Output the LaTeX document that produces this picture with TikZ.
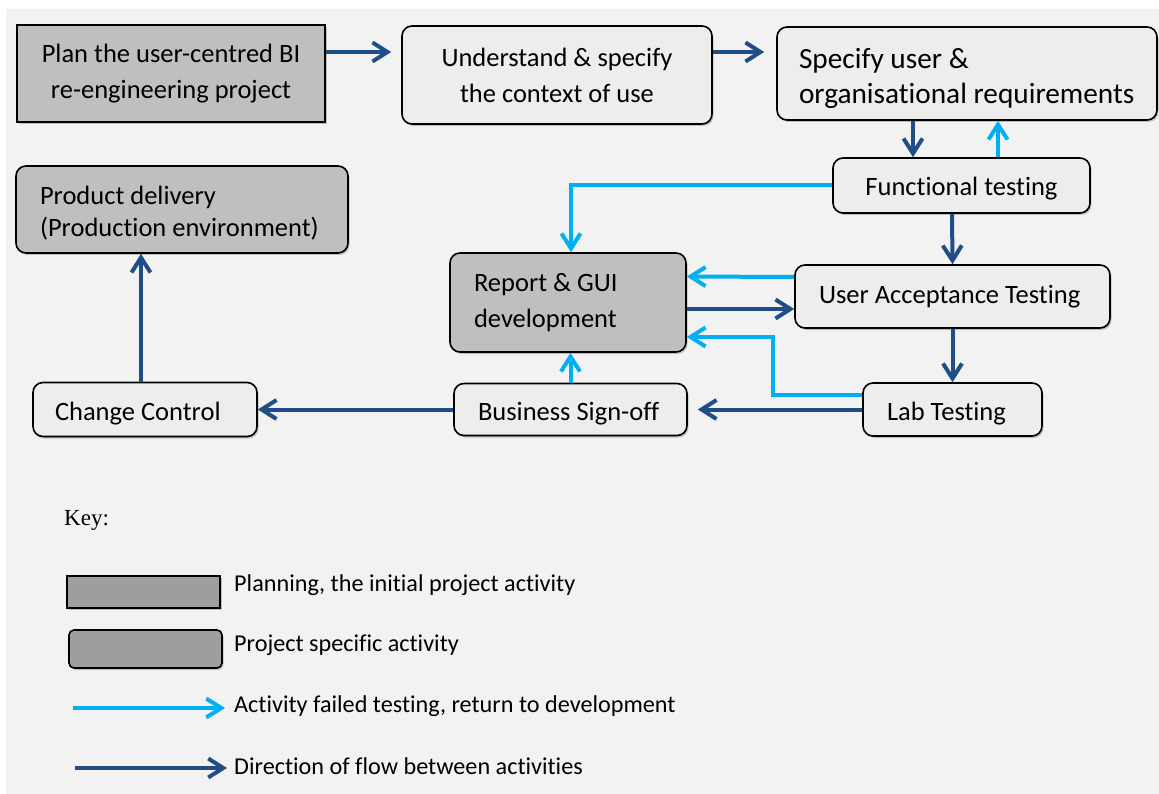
\documentclass[tikz,border=0pt]{standalone}
\usepackage{fontspec}
\setmainfont{Carlito}[Ligatures=NoCommon]
\newfontfamily\keyfont{Liberation Serif}
\usetikzlibrary{arrows.meta,shadows}

\definecolor{flowblue}{HTML}{1F4E86}
\definecolor{failblue}{HTML}{00B0F0}
\definecolor{bggrey}{HTML}{F2F2F2}
\definecolor{boxgrey}{HTML}{EDEDED}
\definecolor{devgrey}{HTML}{BFBFBF}
\definecolor{keygrey}{HTML}{9E9E9E}

\begin{document}
\begin{tikzpicture}[x=1pt,y=-1pt,
	box/.style={draw=black,line width=1.6pt,rounded corners=10pt,fill=boxgrey,
		inner sep=0pt,align=center,font=\fontsize{26.5}{36}\selectfont,
		drop shadow={shadow xshift=1.5pt,shadow yshift=-2pt,opacity=0.45}},
	devbox/.style={box,fill=devgrey},
	leftbox/.style={align=flush left,inner xsep=24pt},
	oneline/.style={text height=21pt,text depth=0pt},
	twolines/.style={text height=22pt,text depth=32pt},
	flow/.style={draw=flowblue,line width=4pt,-{Straight Barb[length=15pt,width=19pt]}},
	fail/.style={flow,draw=failblue},
	keytext/.style={anchor=west,inner sep=0pt,font=\fontsize{24.2}{29}\selectfont}]
	\useasboundingbox (0,0) rectangle (1159,794);
	\fill [bggrey] (6,9) rectangle (1159,794);
	% activities
	\node [box,sharp corners,fill=devgrey,minimum width=308pt,minimum height=97pt] (plan) at (171,73.5) {Plan the user-centred BI\\re-engineering project};
	\node [box,minimum width=310pt,minimum height=98pt] (context) at (557,75) {Understand \& specify\\the context of use};
	\node [box,leftbox,twolines,inner xsep=22pt,text width=336pt,minimum height=93pt,font=\fontsize{29.3}{35}\selectfont] (requirements) at (967,73.5) {Specify user \&\\organisational requirements};
	\node [box,oneline,minimum width=257pt,minimum height=55pt] (functional) at (961.5,185.5) {Functional testing};
	\node [box,leftbox,text width=267pt,minimum height=63pt] (uat) at (952.5,296.5) {User Acceptance Testing};
	\node [box,leftbox,oneline,text width=131pt,minimum height=53pt] (lab) at (952.5,409.5) {Lab Testing};
	\node [box,leftbox,oneline,text width=185pt,minimum height=52pt] (signoff) at (570.5,409.5) {Business Sign-off};
	\node [devbox,leftbox,text width=188pt,minimum height=99pt] (report) at (568,302.5) {Report \& GUI\\development};
	\node [box,leftbox,oneline,inner xsep=22pt,text width=180pt,minimum height=54pt] (change) at (145,409.5) {Change Control};
	\node [devbox,leftbox,twolines,text width=284pt,minimum height=87pt,font=\fontsize{26.5}{32}\selectfont] (delivery) at (182,209.5) {Product delivery\\(Production environment)};
	% flow between activities
	\draw [flow,shorten >=10pt] ([yshift=21.5pt]plan.east) -- ([yshift=23pt]context.west);
	\draw [flow,shorten >=12pt] ([yshift=23pt]context.east) -- ([yshift=21.5pt]requirements.west);
	\draw [flow] ([xshift=-54pt]requirements.south) -- ([xshift=-48.5pt]functional.north);
	\draw [flow] ([xshift=-9.5pt]functional.south) -- (uat.north);
	\draw [flow] ([yshift=-6.5pt]report.east) -- ([yshift=-12.5pt]uat.west);
	\draw [flow] (uat.south) -- (lab.north);
	\draw [flow,shorten >=10pt] (lab.west) -- (signoff.east);
	\draw [flow] (signoff.west) -- (change.east);
	\draw [flow] ([xshift=-4pt]change.north) -- ([xshift=-4pt]change.north |- delivery.south);
	% failed testing
	\coordinate (labturn) at (773,337);
	\draw [fail] ([xshift=36.5pt]functional.north) -- ([xshift=31pt]requirements.south);
	\draw [fail] (functional.west) -| ([xshift=3pt]report.north);
	\draw [fail] ([yshift=19.5pt]uat.west) -- ([yshift=26pt]report.east);
	\draw [fail] ([yshift=14.5pt]lab.west) -| (labturn) -- (report.east |- labturn);
	\draw [fail] (signoff.north) -- (signoff.north |- report.south);
	% key
	\node [keytext,font=\keyfont\fontsize{23}{28}\selectfont] (key) at (64,520) {Key:};
	\node [box,sharp corners,fill=keygrey,minimum width=153pt,minimum height=32pt] (keyplan) at (143.5,592) {};
	\node [keytext] (keyplantext) at (234,585) {Planning, the initial project activity};
	\node [box,rounded corners=5pt,fill=keygrey,minimum width=153pt,minimum height=38pt] (keydev) at (145.5,649) {};
	\node [keytext] (keydevtext) at (234,645) {Project specific activity};
	\coordinate (failstart) at (73,708);
	\node [keytext] (failtext) at (234,706) {Activity failed testing, return to development};
	\draw [fail,shorten >=9pt] (failstart) -- (failtext.west |- failstart);
	\coordinate (flowstart) at (75,768);
	\node [keytext] (flowtext) at (234,766) {Direction of flow between activities};
	\draw [flow,shorten >=7pt] (flowstart) -- (flowtext.west |- flowstart);
\end{tikzpicture}
\end{document}
